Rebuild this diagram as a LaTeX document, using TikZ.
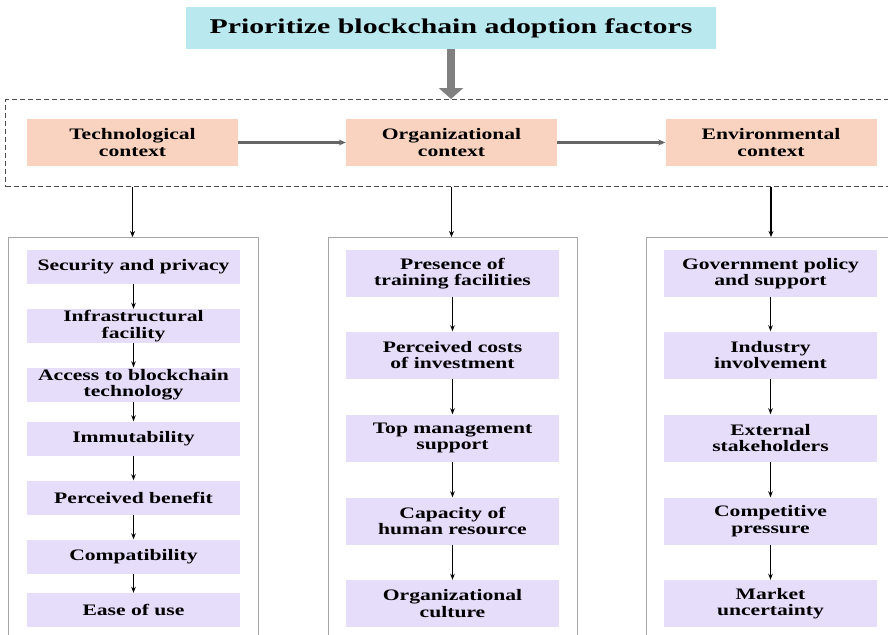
\documentclass[tikz,border=0pt]{standalone}
\usepackage{fontspec}
\setmainfont{Liberation Serif}[FakeStretch=1.35]
\newfontfamily\titlefont{Liberation Serif}[FakeStretch=1.42]
\usetikzlibrary{arrows.meta}
\definecolor{titlecyan}{HTML}{BAE8EF}
\definecolor{ctxpeach}{HTML}{F9D3BF}
\definecolor{factorlilac}{HTML}{E6DDFA}
\definecolor{framegray}{HTML}{A6A6A6}
\begin{document}
\begin{tikzpicture}[x=1pt,y=-1pt,
	every node/.style={inner sep=0pt, align=center, font=\bfseries\fontsize{16}{16.5}\selectfont},
	ctxbox/.style={fill=ctxpeach, minimum width=211pt, minimum height=47pt},
	factor/.style={fill=factorlilac, minimum width=213pt, minimum height=47pt},
	factorlow/.style={factor, minimum height=34pt},
	column/.style={draw=framegray, line width=0.9pt, minimum height=440pt, anchor=north west},
	link/.style={-{Stealth[length=6pt,width=4.5pt]}, line width=1.1pt, black},
	flow/.style={-{Stealth[length=7pt,width=6pt]}, line width=2.2pt, black!60},
	feed/.style={-{Stealth[length=6pt,width=5pt]}, line width=1.3pt, black},
	bigarrow/.style={-{Triangle[width=24pt,length=11pt]}, line width=8pt, black!50}]
	\path[use as bounding box] (0,0) rectangle (888,634);
	\clip (0,0) rectangle (888,634);
	\node[column, minimum width=250pt] (colT) at (8,237) {};
	\node[column, minimum width=249pt] (colO) at (328,237) {};
	\node[column, minimum width=260pt] (colE) at (646,237) {};
	\node[draw=black!70, dashed, dash pattern=on 5pt off 3pt, line width=1.1pt, minimum width=890pt, minimum height=87pt, anchor=north west] (ctx) at (5,99) {};
	\node[fill=titlecyan, minimum width=530pt, minimum height=42pt, font=\titlefont\bfseries\fontsize{21}{24}\selectfont] (title) at (451,28) {Prioritize blockchain adoption factors};
	\draw[bigarrow] (title.south) -- (title.south |- ctx.north);
	\node[ctxbox] (tech) at (132.5,142.5) {Technological\\context};
	\node[ctxbox] (org) at (451.5,142.5) {Organizational\\context};
	\node[ctxbox] (env) at (771,142.5) {Environmental\\context};
	\draw[flow] (tech) -- (org);
	\draw[flow] (org) -- (env);
	\draw[feed] (tech |- ctx.south) -- (tech |- colT.north);
	\draw[feed] (org |- ctx.south) -- (org |- colO.north);
	\draw[feed] (env |- ctx.south) -- (env |- colE.north);
	\node[factorlow] (sec) at (133.5,267) {Security and privacy};
	\node[factorlow] (infra) at (133.5,326) {Infrastructural\\facility};
	\node[factorlow] (access) at (133.5,384.5) {Access to blockchain\\technology};
	\node[factorlow] (immut) at (133.5,438.5) {Immutability};
	\node[factorlow] (benefit) at (133.5,497.5) {Perceived benefit};
	\node[factorlow] (compat) at (133.5,556.5) {Compatibility};
	\node[factorlow] (ease) at (133.5,610) {Ease of use};
	\draw[link] (sec) -- (infra);
	\draw[link] (infra) -- (access);
	\draw[link] (access) -- (immut);
	\draw[link] (immut) -- (benefit);
	\draw[link] (benefit) -- (compat);
	\draw[link] (compat) -- (ease);
	\node[factor] (train) at (452.5,273.5) {Presence of\\training facilities};
	\node[factor] (cost) at (452.5,355) {Perceived costs\\of investment};
	\node[factor] (topmgmt) at (452.5,438) {Top management\\support};
	\node[factor] (human) at (452.5,521) {Capacity of\\human resource};
	\node[factor] (culture) at (452.5,603.5) {Organizational\\culture};
	\draw[link] (train) -- (cost);
	\draw[link] (cost) -- (topmgmt);
	\draw[link] (topmgmt) -- (human);
	\draw[link] (human) -- (culture);
	\node[factor] (gov) at (770.5,273.5) {Government policy\\and support};
	\node[factor] (industry) at (770.5,355) {Industry\\involvement};
	\node[factor] (stake) at (770.5,438) {External\\stakeholders};
	\node[factor] (compete) at (770.5,521) {Competitive\\pressure};
	\node[factor] (market) at (770.5,603.5) {Market\\uncertainty};
	\draw[link] (gov) -- (industry);
	\draw[link] (industry) -- (stake);
	\draw[link] (stake) -- (compete);
	\draw[link] (compete) -- (market);
\end{tikzpicture}
\end{document}
